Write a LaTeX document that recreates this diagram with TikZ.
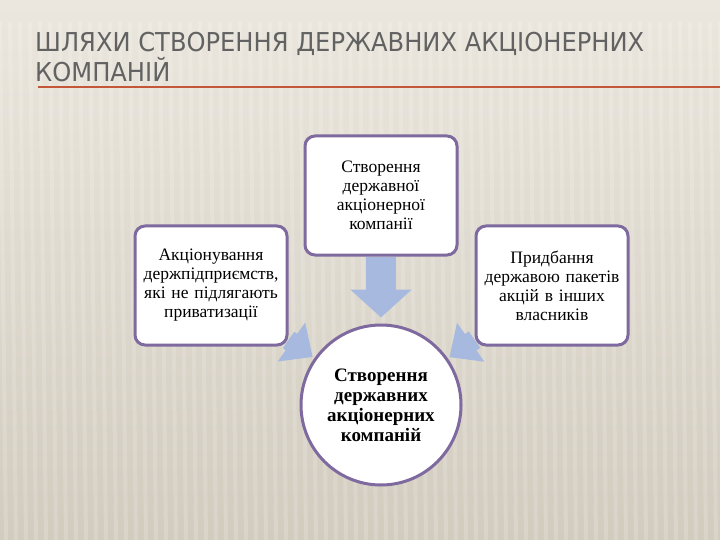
\documentclass[tikz,border=0pt]{standalone}
\usepackage{fontspec}
\setmainfont{Liberation Serif}
\newfontfamily\titlefont[FakeStretch=0.93]{DejaVu Sans}
\usetikzlibrary{arrows.meta}
\pgfdeclarelayer{paper}
\pgfdeclarelayer{flow}
\pgfsetlayers{paper,flow,main}
\definecolor{bgtop}{HTML}{EBE7DE}
\definecolor{bgbot}{HTML}{D2CCBF}
\definecolor{boxline}{HTML}{7E6A9E}
\definecolor{arrowfill}{HTML}{A7B9DE}
\definecolor{ruleline}{HTML}{C4573A}
\definecolor{titlegray}{HTML}{626262}
\tikzset{
  waybox/.style={draw=boxline, line width=3pt, fill=white, rounded corners=10pt,
    minimum width=152pt, minimum height=119pt, text width=142pt, align=center,
    font=\fontsize{17.5}{19}\selectfont},
  goal/.style={circle, draw=boxline, line width=3pt, fill=white, minimum size=160pt,
    inner sep=0pt, align=center, font=\bfseries\fontsize{19}{20}\selectfont},
  heading/.style={anchor=base west, text=titlegray, inner sep=0pt,
    font=\titlefont\fontsize{26}{30}\selectfont},
  bigflow/.style={draw=arrowfill, line width=30pt, -{Triangle[length=28pt,width=60pt]}},
  sideflow/.style={draw=arrowfill, line width=20pt, -{Triangle[length=26pt,width=46pt]}}
}
\begin{document}
\begin{tikzpicture}[x=1pt, y=-1pt]
    \useasboundingbox (0, 0) rectangle (720, 540);
    \begin{pgfonlayer}{paper}
        \shade[top color=bgtop, bottom color=bgbot] (0, 0) rectangle (720, 540);
        \foreach \sx in {0, 10, ..., 720}
            \draw[white, opacity=.16, line width=4pt] (\sx, 22) -- (\sx + 6, 540);
    \end{pgfonlayer}

    \node[heading] (title1) at (35, 52) {ШЛЯХИ СТВОРЕННЯ ДЕРЖАВНИХ АКЦІОНЕРНИХ};
    \node[heading] (title2) at (35, 82) {КОМПАНІЙ};
    \draw[ruleline, line width=2pt] (38, 87) -- (720, 87);

    \node[goal] (goal) at (381, 405) {Створення\\державних\\акціонерних\\компаній};
    \node[waybox] (new) at (381, 195.5) {Створення\\державної\\акціонерної\\компанії};
    \node[waybox] (corp) at (211, 285.5) {Акціонування\\держпідприємств,\\які не підлягають\\приватизації};
    \node[waybox] (buy) at (552, 285.5) {Придбання\\державою пакетів\\акцій в інших\\власників};

    % arrows under the shapes
    \begin{pgfonlayer}{flow}
        \draw[bigflow, shorten >=6pt] (new) -- (goal);
        \draw[sideflow, shorten >=2pt] (corp) -- (goal);
        \draw[sideflow, shorten >=2pt] (buy) -- (goal);
    \end{pgfonlayer}
\end{tikzpicture}
\end{document}
